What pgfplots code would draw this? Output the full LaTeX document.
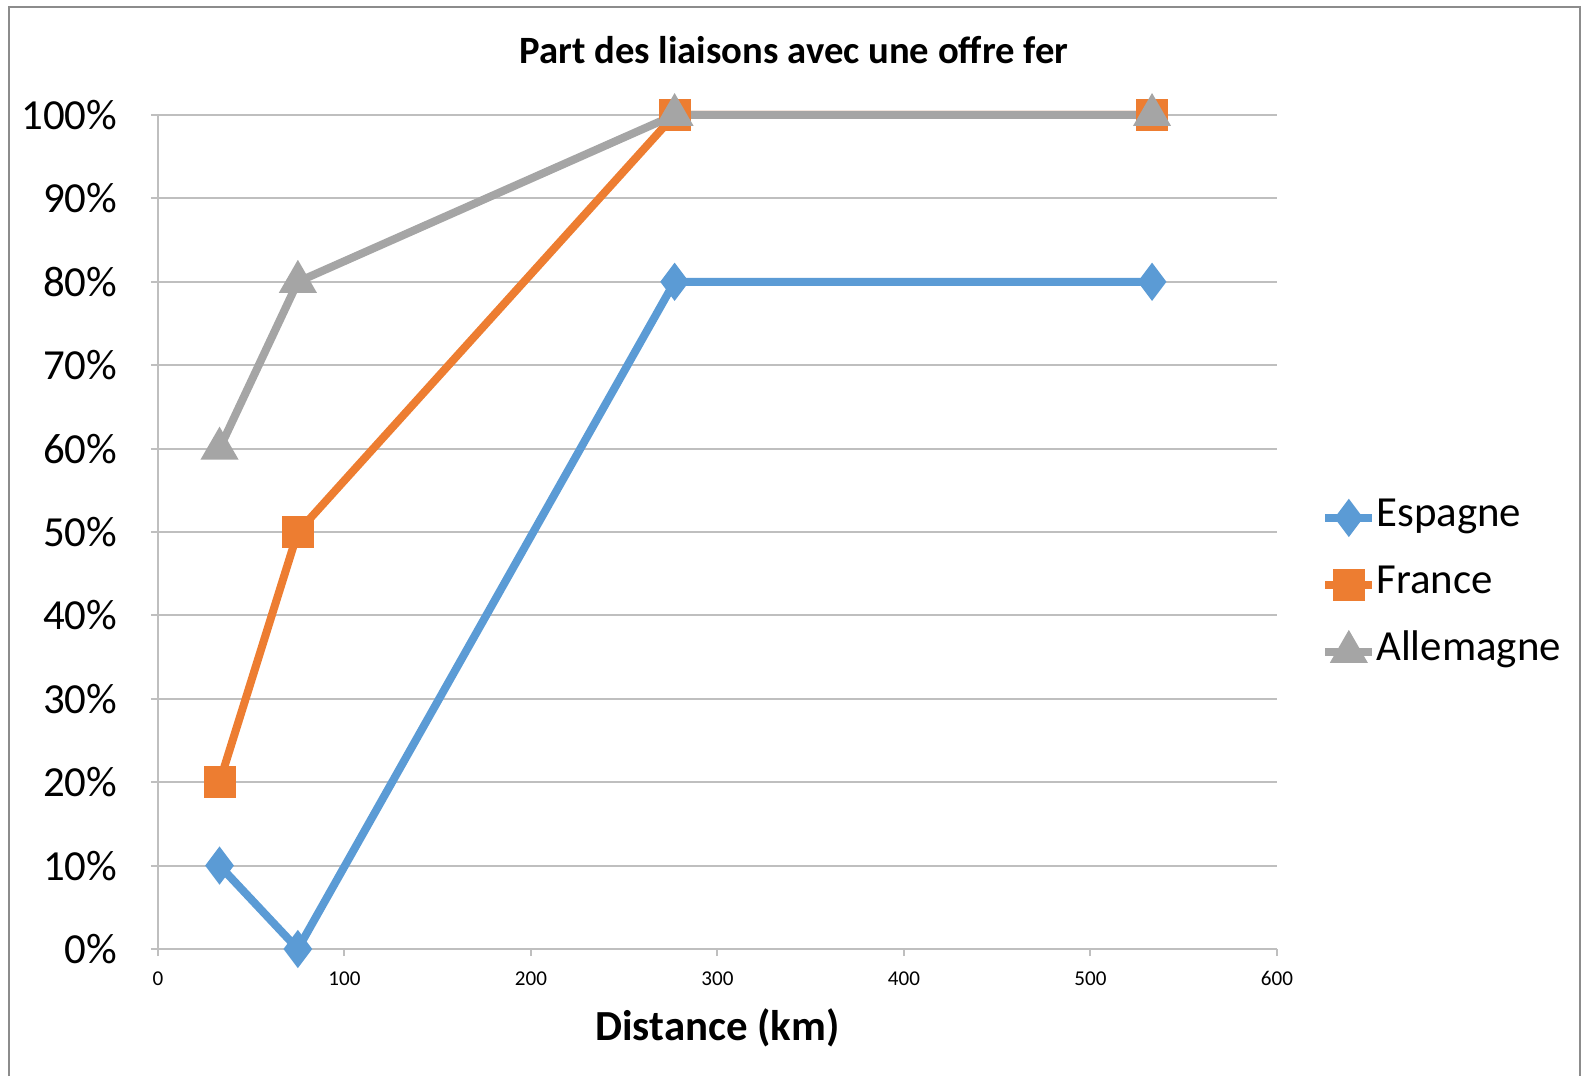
\documentclass[border=0pt]{standalone}
\usepackage{fontspec}
\setmainfont{Carlito}
\usepackage{pgfplots}
\pgfplotsset{compat=1.18}
\definecolor{esp}{HTML}{5B9BD5}
\definecolor{fra}{HTML}{ED7D31}
\definecolor{alle}{HTML}{A5A5A5}
\definecolor{gridc}{HTML}{BFBFBF}
\definecolor{framec}{HTML}{8C8C8C}
\begin{document}
\begin{tikzpicture}
\path[use as bounding box] (0,0) rectangle (15.81cm,10.76cm);
\draw[framec, line width=0.2mm] (0.09cm,0) -- (0.09cm,10.69cm) -- (15.80cm,10.69cm) -- (15.80cm,0);
\node[font=\bfseries\fontsize{11}{13}\selectfont] at (7.94cm,10.26cm) {Part des liaisons avec une offre fer};
\begin{axis}[
  at={(1.58cm,1.27cm)}, anchor=south west,
  scale only axis, width=11.19cm, height=8.34cm,
  xmin=0, xmax=600, ymin=0, ymax=1,
  clip=false,
  xtick={0,100,200,300,400,500,600},
  ytick={0,0.1,0.2,0.3,0.4,0.5,0.6,0.7,0.8,0.9,1},
  yticklabels={0\%,10\%,20\%,30\%,40\%,50\%,60\%,70\%,80\%,90\%,100\%},
  axis x line*=bottom, axis y line*=left,
  ymajorgrids,
  grid style={gridc, line width=0.2mm},
  axis line style={gridc, line width=0.2mm},
  every tick/.style={gridc, line width=0.2mm},
  tick align=outside, major tick length=0.7mm,
  /pgf/number format/assume math mode=true,
  x tick label style={font=\fontsize{6}{7}\selectfont, inner sep=0pt, anchor=north, yshift=-1.5mm},
  y tick label style={font=\fontsize{12.2}{14}\selectfont, inner sep=0pt, anchor=east, xshift=-3.3mm},
  xlabel={Distance (km)},
  xlabel style={font=\bfseries\fontsize{12.2}{14}\selectfont, at={(axis description cs:0.5,-0.095)}, anchor=center},
  legend cell align=left,
  legend style={draw=none, fill=none, at={(axis description cs:1.039,0.4366)}, anchor=west,
    font=\fontsize{12.2}{14}\selectfont, inner sep=0pt,
    nodes={inner sep=0pt, text height=2.5mm, text depth=0.8mm},
    row sep=3.4mm},
  legend image code/.code={\draw[mark repeat=2,mark phase=2,#1] plot coordinates {(0cm,0cm) (0.235cm,0cm) (0.47cm,0cm)};},
  every axis plot/.append style={line width=0.8mm},
]
\addplot[esp, mark=diamond*, mark size=1.25mm, mark options={solid}] coordinates {(33,0.1) (75,0) (277,0.8) (533,0.8)};
\addlegendentry{Espagne}
\addplot[fra, mark=square*, mark size=1.2mm] coordinates {(33,0.2) (75,0.5) (277,1) (533,1)};
\addlegendentry{France}
\addplot[alle, mark=triangle*, mark size=1.4mm] coordinates {(33,0.6) (75,0.8) (277,1) (533,1)};
\addlegendentry{Allemagne}
\end{axis}
\end{tikzpicture}
\end{document}
